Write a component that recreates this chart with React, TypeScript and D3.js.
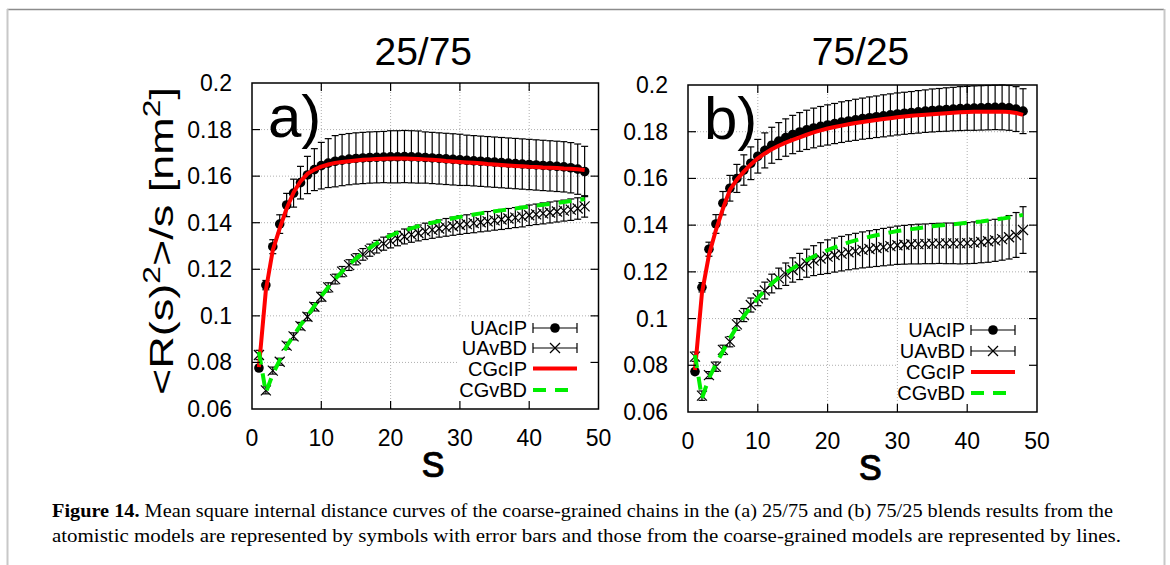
import React from 'react';
import * as d3 from 'd3';

const sValues = [1,2,3,4,5,6,7,8,9,10,11,12,13,14,15,16,17,18,19,20,21,22,23,24,25,26,27,28,29,30,31,32,33,34,35,36,37,38,39,40,41,42,43,44,45,46,47,48];

const xTicks = [0, 10, 20, 30, 40, 50];
const yTicks = [0.06, 0.08, 0.1, 0.12, 0.14, 0.16, 0.18, 0.2];
const yTickLabels = ['0.06', '0.08', '0.1', '0.12', '0.14', '0.16', '0.18', '0.2'];

// Panel a (25/75)
const aUAcIP = [0.0776,0.1132,0.1297,0.1394,0.1476,0.1527,0.1572,0.1605,0.1628,0.1645,0.1656,0.1664,0.1669,0.1673,0.1676,0.1678,0.1680,0.1681,0.1682,0.1683,0.1683,0.1684,0.1683,0.1682,0.1680,0.1678,0.1676,0.1674,0.1672,0.1670,0.1668,0.1666,0.1664,0.1662,0.1660,0.1658,0.1656,0.1654,0.1652,0.1650,0.1648,0.1646,0.1644,0.1642,0.1640,0.1636,0.1630,0.1620];
const aUAcIPErr = [0.001,0.002,0.003,0.004,0.005,0.006,0.007,0.008,0.009,0.010,0.0105,0.011,0.011,0.011,0.011,0.011,0.011,0.011,0.011,0.0112,0.0112,0.0112,0.0112,0.0112,0.011,0.011,0.011,0.011,0.011,0.011,0.0108,0.0108,0.0108,0.0108,0.0108,0.0108,0.0108,0.0108,0.0108,0.0108,0.0108,0.0108,0.0108,0.0108,0.0108,0.0108,0.0108,0.0108];
const aCGcIP = [0.0780,0.1110,0.1282,0.1376,0.1461,0.1530,0.1578,0.1610,0.1628,0.1641,0.1650,0.1657,0.1661,0.1664,0.1667,0.1670,0.1672,0.1674,0.1675,0.1676,0.1676,0.1676,0.1675,0.1674,0.1672,0.1670,0.1668,0.1665,0.1663,0.1661,0.1659,0.1657,0.1655,0.1652,0.1650,0.1648,0.1646,0.1644,0.1642,0.1640,0.1639,0.1637,0.1636,0.1635,0.1633,0.1632,0.1630,0.1626];
const aUAvBD = [0.0832,0.0680,0.0765,0.0803,0.0872,0.0912,0.0956,0.0996,0.1039,0.1082,0.1122,0.1158,0.1190,0.1218,0.1243,0.1264,0.1282,0.1297,0.1310,0.1322,0.1332,0.1341,0.1349,0.1356,0.1363,0.1369,0.1375,0.1380,0.1385,0.1390,0.1394,0.1398,0.1402,0.1406,0.1410,0.1414,0.1418,0.1422,0.1426,0.1432,0.1436,0.1440,0.1444,0.1448,0.1452,0.1456,0.1461,0.1470];
const aUAvBDErr = [0.002,0.0015,0.0015,0.0015,0.0015,0.0015,0.0016,0.0017,0.0018,0.0019,0.002,0.0021,0.0022,0.0023,0.0024,0.0025,0.0026,0.0027,0.0028,0.003,0.0031,0.0032,0.0033,0.0034,0.0035,0.0036,0.0037,0.0038,0.0039,0.004,0.004,0.0041,0.0041,0.0042,0.0042,0.0043,0.0043,0.0043,0.0044,0.0044,0.0044,0.0045,0.0045,0.0045,0.0045,0.0046,0.0046,0.0046];
const aCGvBD = [0.0846,0.0670,0.0750,0.0810,0.0870,0.0915,0.0960,0.1000,0.1042,0.1085,0.1123,0.1158,0.1190,0.1220,0.1246,0.1270,0.1292,0.1312,0.1330,0.1345,0.1357,0.1367,0.1376,0.1385,0.1393,0.1400,0.1407,0.1413,0.1419,0.1425,0.1430,0.1435,0.1440,0.1445,0.1449,0.1453,0.1457,0.1461,0.1465,0.1469,0.1473,0.1477,0.1481,0.1485,0.1489,0.1493,0.1497,0.1502];

// Panel b (75/25)
const bUAcIP = [0.0773,0.1134,0.1297,0.1405,0.1494,0.1558,0.1600,0.1636,0.1665,0.1695,0.1720,0.1742,0.1760,0.1775,0.1788,0.1799,0.1808,0.1816,0.1823,0.1829,0.1835,0.1841,0.1846,0.1851,0.1856,0.1860,0.1864,0.1868,0.1872,0.1876,0.1879,0.1882,0.1885,0.1888,0.1891,0.1893,0.1895,0.1897,0.1899,0.1900,0.1901,0.1902,0.1903,0.1904,0.1904,0.1902,0.1897,0.1888];
const bUAcIPErr = [0.001,0.002,0.003,0.004,0.005,0.0055,0.006,0.0065,0.007,0.0072,0.0075,0.0077,0.0079,0.008,0.0082,0.0083,0.0084,0.0085,0.0085,0.0086,0.0086,0.0087,0.0087,0.0088,0.0088,0.0089,0.0089,0.009,0.009,0.009,0.009,0.009,0.0091,0.0091,0.0092,0.0092,0.0093,0.0093,0.0094,0.0094,0.0095,0.0095,0.0095,0.0095,0.0096,0.0096,0.0096,0.0096];
const bCGcIP = [0.0780,0.1110,0.1272,0.1379,0.1470,0.1551,0.1595,0.1629,0.1660,0.1686,0.1707,0.1725,0.1740,0.1753,0.1765,0.1776,0.1787,0.1797,0.1806,0.1814,0.1820,0.1826,0.1832,0.1837,0.1842,0.1846,0.1850,0.1854,0.1858,0.1862,0.1865,0.1868,0.1871,0.1873,0.1875,0.1877,0.1879,0.1881,0.1883,0.1884,0.1885,0.1886,0.1886,0.1886,0.1886,0.1884,0.1880,0.1872];
const bUAvBD = [0.0837,0.0670,0.0758,0.0794,0.0866,0.0901,0.0975,0.1015,0.1058,0.1087,0.1120,0.1150,0.1172,0.1190,0.1208,0.1223,0.1237,0.1248,0.1257,0.1265,0.1272,0.1278,0.1284,0.1289,0.1294,0.1298,0.1302,0.1306,0.1310,0.1314,0.1316,0.1318,0.1319,0.1320,0.1321,0.1322,0.1322,0.1322,0.1322,0.1323,0.1325,0.1328,0.1331,0.1335,0.1340,0.1348,0.1358,0.1379];
const bUAvBDErr = [0.002,0.002,0.0015,0.002,0.002,0.0022,0.0025,0.0028,0.003,0.0032,0.0036,0.004,0.0044,0.0048,0.0052,0.0056,0.006,0.0064,0.0068,0.0072,0.0073,0.0074,0.0075,0.0076,0.0077,0.0078,0.0079,0.008,0.0081,0.0082,0.0083,0.0084,0.0085,0.0085,0.0086,0.0086,0.0087,0.0087,0.0088,0.0088,0.0089,0.0089,0.009,0.009,0.009,0.0093,0.0096,0.0100];
const bCGvBD = [0.0844,0.0659,0.0745,0.0805,0.0860,0.0915,0.0965,0.1010,0.1050,0.1088,0.1120,0.1150,0.1175,0.1196,0.1215,0.1234,0.1251,0.1266,0.1280,0.1293,0.1305,0.1316,0.1326,0.1335,0.1343,0.1350,0.1357,0.1363,0.1369,0.1375,0.1379,0.1383,0.1387,0.1391,0.1395,0.1398,0.1401,0.1404,0.1407,0.1410,0.1413,0.1416,0.1420,0.1424,0.1428,0.1433,0.1438,0.1444];

const legendNames = ['UAcIP', 'UAvBD', 'CGcIP', 'CGvBD'];

const SANS = '"Liberation Sans", Arial, Helvetica, sans-serif';
const SERIF = '"Liberation Serif", "Times New Roman", serif';

type PanelProps = {
  left: number; right: number; top: number; bottom: number;
  title: string; tag: string; showYLabel: boolean;
  cip: number[]; cipErr: number[]; vbd: number[]; vbdErr: number[];
  cgCip: number[]; cgVbd: number[];
  legendX: number; legendRows: number[]; legendBox: [number, number];
};

function Panel(p: PanelProps) {
  const x = d3.scaleLinear().domain([0, 50]).range([p.left, p.right]);
  const y = d3.scaleLinear().domain([0.06, 0.2]).range([p.bottom, p.top]);
  const line = d3.line<number>().x((_, i) => x(sValues[i])).y((d) => y(d));
  const cap = 3.5;
  const tickLen = 8;
  const grid = '#9a9a9a';
  const lx0 = p.legendX + 6;
  const lx1 = p.legendX + 50;
  const lxm = (lx0 + lx1) / 2;
  return (
    <g>
      {xTicks.slice(1, -1).map((t) => (
        <line key={'gx' + t} x1={x(t)} x2={x(t)} y1={p.top} y2={p.bottom} stroke={grid} strokeWidth={0.8} strokeDasharray="1,2" />
      ))}
      {yTicks.slice(1, -1).map((t) => (
        <line key={'gy' + t} x1={p.left} x2={p.right} y1={y(t)} y2={y(t)} stroke={grid} strokeWidth={0.8} strokeDasharray="1,2" />
      ))}
      {p.vbd.map((d, i) => {
        const cx = x(sValues[i]);
        const y1 = y(d + p.vbdErr[i]);
        const y2 = y(d - p.vbdErr[i]);
        const cy = y(d);
        return (
          <g key={'v' + i} stroke="#000" strokeWidth={1.2}>
            <line x1={cx} x2={cx} y1={y1} y2={y2} />
            <line x1={cx - cap} x2={cx + cap} y1={y1} y2={y1} />
            <line x1={cx - cap} x2={cx + cap} y1={y2} y2={y2} />
            <line x1={cx - 5} x2={cx + 5} y1={cy - 5} y2={cy + 5} />
            <line x1={cx - 5} x2={cx + 5} y1={cy + 5} y2={cy - 5} />
          </g>
        );
      })}
      {p.cip.map((d, i) => {
        const cx = x(sValues[i]);
        const y1 = y(d + p.cipErr[i]);
        const y2 = y(d - p.cipErr[i]);
        return (
          <g key={'c' + i} stroke="#000" strokeWidth={1.2}>
            <line x1={cx} x2={cx} y1={y1} y2={y2} />
            <line x1={cx - cap} x2={cx + cap} y1={y1} y2={y1} />
            <line x1={cx - cap} x2={cx + cap} y1={y2} y2={y2} />
            <circle cx={cx} cy={y(d)} r={4.8} fill="#000" stroke="none" />
          </g>
        );
      })}
      <path d={line(p.cgCip) || ''} fill="none" stroke="#ff0000" strokeWidth={4} strokeLinejoin="round" />
      <path d={line(p.cgVbd) || ''} fill="none" stroke="#00ee00" strokeWidth={4} strokeDasharray="13,9" />
      <rect x={p.legendBox[0]} y={p.legendBox[1]} width={p.right - 1.5 - p.legendBox[0]} height={p.bottom - 1.5 - p.legendBox[1]} fill="#fff" />
      {legendNames.map((n, i) => (
        <text key={n} x={p.legendX} y={p.legendRows[i] + 7} textAnchor="end" fontFamily={SANS} fontSize={20} fill="#000">{n}</text>
      ))}
      {[0, 1].map((i) => (
        <g key={'ls' + i} stroke="#000" strokeWidth={1.2}>
          <line x1={lx0} x2={lx1} y1={p.legendRows[i]} y2={p.legendRows[i]} />
          <line x1={lx0} x2={lx0} y1={p.legendRows[i] - 5} y2={p.legendRows[i] + 5} />
          <line x1={lx1} x2={lx1} y1={p.legendRows[i] - 5} y2={p.legendRows[i] + 5} />
          {i === 0 ? (
            <circle cx={lxm} cy={p.legendRows[i]} r={4.8} fill="#000" stroke="none" />
          ) : (
            <g>
              <line x1={lxm - 5} x2={lxm + 5} y1={p.legendRows[i] - 5} y2={p.legendRows[i] + 5} />
              <line x1={lxm - 5} x2={lxm + 5} y1={p.legendRows[i] + 5} y2={p.legendRows[i] - 5} />
            </g>
          )}
        </g>
      ))}
      <line x1={lx0} x2={lx1} y1={p.legendRows[2]} y2={p.legendRows[2]} stroke="#ff0000" strokeWidth={4} />
      <line x1={lx0} x2={lx1} y1={p.legendRows[3]} y2={p.legendRows[3]} stroke="#00ee00" strokeWidth={4} strokeDasharray="13,9" />
      {xTicks.slice(1, -1).map((t) => (
        <g key={'tx' + t} stroke="#000" strokeWidth={1.2}>
          <line x1={x(t)} x2={x(t)} y1={p.bottom} y2={p.bottom - tickLen} />
          <line x1={x(t)} x2={x(t)} y1={p.top} y2={p.top + tickLen} />
        </g>
      ))}
      {yTicks.slice(1, -1).map((t) => (
        <g key={'ty' + t} stroke="#000" strokeWidth={1.2}>
          <line x1={p.left} x2={p.left + tickLen} y1={y(t)} y2={y(t)} />
          <line x1={p.right} x2={p.right - tickLen} y1={y(t)} y2={y(t)} />
        </g>
      ))}
      <rect x={p.left} y={p.top} width={p.right - p.left} height={p.bottom - p.top} fill="none" stroke="#000" strokeWidth={1.5} />
      {xTicks.map((t) => (
        <text key={'lx' + t} x={x(t)} y={p.bottom + 37} textAnchor="middle" fontFamily={SANS} fontSize={23} fill="#000">{t}</text>
      ))}
      {yTicks.map((t, i) => (
        <text key={'ly' + t} x={p.left - 20} y={y(t) + 8} textAnchor="end" fontFamily={SANS} fontSize={23} fill="#000">{yTickLabels[i]}</text>
      ))}
      <text x={(p.left + p.right) / 2 - 2} y={65} textAnchor="middle" fontFamily={SANS} fontSize={39} fill="#000">{p.title}</text>
      <text x={(p.left + p.right) / 2 + 8} y={p.bottom + 68} textAnchor="middle" fontFamily={SANS} fontSize={46} fill="#000" stroke="#000" strokeWidth={0.6}>s</text>
      <text x={p.left + 16} y={p.top + 54} fontFamily={SANS} fontSize={60} fill="#000">{p.tag}</text>
      {p.showYLabel && (
        <text transform={`translate(173, ${(p.top + p.bottom) / 2 - 5}) rotate(-90)`} textAnchor="middle" fontFamily={SANS} fontSize={34} fill="#000" textLength={308} lengthAdjust="spacingAndGlyphs">
          {'<R(s)'}<tspan dy={-13} fontSize={24}>2</tspan><tspan dy={13}>{'>/s [nm'}</tspan><tspan dy={-13} fontSize={24}>2</tspan><tspan dy={13}>{']'}</tspan>
        </text>
      )}
    </g>
  );
}

export default function App() {
  return (
    <svg width={1170} height={565} style={{ position: 'absolute', left: 0, top: 0, background: '#fff' }}>
      <rect x={0} y={0} width={1170} height={565} fill="#fff" />
      <line x1={7} x2={1164} y1={9.5} y2={9.5} stroke="#8c8c8c" strokeWidth={1.5} />
      <line x1={7.5} x2={7.5} y1={9} y2={565} stroke="#c8c8c8" strokeWidth={2} />
      <line x1={1164.5} x2={1164.5} y1={9} y2={565} stroke="#c8c8c8" strokeWidth={2} />
      <Panel left={252} right={598.5} top={83} bottom={409} title="25/75" tag="a)" showYLabel={true}
        cip={aUAcIP} cipErr={aUAcIPErr} vbd={aUAvBD} vbdErr={aUAvBDErr} cgCip={aCGcIP} cgVbd={aCGvBD}
        legendX={527} legendRows={[328, 348, 368.5, 390]} legendBox={[459, 317]} />
      <Panel left={688} right={1037} top={85} bottom={412} title="75/25" tag="b)" showYLabel={false}
        cip={bUAcIP} cipErr={bUAcIPErr} vbd={bUAvBD} vbdErr={bUAvBDErr} cgCip={bCGcIP} cgVbd={bCGvBD}
        legendX={965} legendRows={[330, 351, 372, 393]} legendBox={[898, 319]} />
      <text x={52} y={517} fontFamily={SERIF} fontSize={19} fill="#000" textLength={1061} lengthAdjust="spacingAndGlyphs">
        <tspan fontWeight="bold">Figure 14.</tspan>
        {' Mean square internal distance curves of the coarse-grained chains in the (a) 25/75 and (b) 75/25 blends results from the'}
      </text>
      <text x={52} y={542} fontFamily={SERIF} fontSize={19} fill="#000" textLength={1069} lengthAdjust="spacingAndGlyphs">
        atomistic models are represented by symbols with error bars and those from the coarse-grained models are represented by lines.
      </text>
    </svg>
  );
}
